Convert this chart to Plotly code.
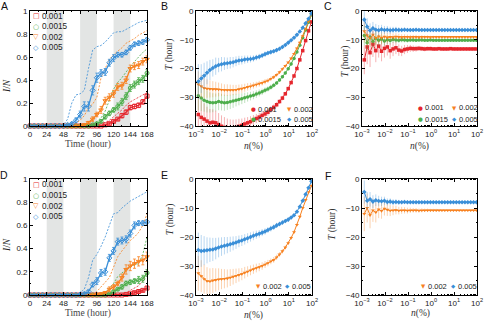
import plotly.graph_objects as go

W, H = 484, 323

# ---- data -------------------------------------------------------------
RATES = ["0.001", "0.0015", "0.002", "0.005"]

TIME = [0, 6, 12, 18, 24, 30, 36, 42, 48, 54, 60, 66, 72, 78, 84, 90, 96, 102,
        108, 114, 120, 126, 132, 138, 144, 150, 156, 162, 168]
NIGHTS = [(24, 48), (72, 96), (120, 144)]

# panel A  (solid = mean, err = error bar, dash = upper curve)
A_SOLID = {
    "0.001": [0, 0, 0, 0, 0, 0, 0, 0, 0, 0, 0, 0, 0, 0, 0, 0, 0, 0,
              0.01, 0.02, 0.04, 0.06, 0.09, 0.12, 0.16, 0.17, 0.18, 0.21, 0.26],
    "0.0015": [0, 0, 0, 0, 0, 0, 0, 0, 0, 0, 0, 0, 0, 0, 0,
               0.01, 0.02, 0.04, 0.08, 0.11, 0.14, 0.17, 0.21, 0.26, 0.33, 0.36, 0.39, 0.41, 0.46],
    "0.002": [0, 0, 0, 0, 0, 0, 0, 0, 0, 0, 0, 0, 0,
              0.01, 0.03, 0.06, 0.10, 0.14, 0.22, 0.25, 0.28, 0.34, 0.35, 0.40, 0.50, 0.52, 0.53, 0.56, 0.58],
    "0.005": [0, 0, 0, 0, 0, 0, 0, 0, 0,
              0.01, 0.02, 0.05, 0.10, 0.17, 0.17, 0.31, 0.42, 0.46, 0.47, 0.55, 0.59, 0.62, 0.62, 0.64,
              0.68, 0.71, 0.72, 0.73, 0.75],
}
A_ERR = {
    "0.001": [0, 0, 0, 0, 0, 0, 0, 0, 0, 0, 0, 0, 0, 0, 0, 0, 0, 0,
              0.005, 0.01, 0.01, 0.01, 0.02, 0.02, 0.02, 0.02, 0.02, 0.02, 0.02],
    "0.0015": [0, 0, 0, 0, 0, 0, 0, 0, 0, 0, 0, 0, 0, 0, 0,
               0.005, 0.01, 0.01, 0.02, 0.02, 0.02, 0.03, 0.03, 0.03, 0.03, 0.03, 0.03, 0.03, 0.03],
    "0.002": [0, 0, 0, 0, 0, 0, 0, 0, 0, 0, 0, 0, 0,
              0.01, 0.01, 0.02, 0.02, 0.03, 0.03, 0.03, 0.03, 0.03, 0.03, 0.03, 0.03, 0.03, 0.03, 0.03, 0.03],
    "0.005": [0, 0, 0, 0, 0, 0, 0, 0, 0,
              0.005, 0.01, 0.02, 0.03, 0.04, 0.04, 0.04, 0.04, 0.03, 0.03, 0.03, 0.03, 0.02, 0.02, 0.02,
              0.02, 0.02, 0.02, 0.02, 0.02],
}
A_DASH = {
    "0.001": [0, 0, 0, 0, 0, 0, 0, 0, 0, 0, 0, 0, 0, 0, 0, 0,
              0.01, 0.02, 0.03, 0.05, 0.08, 0.11, 0.14, 0.18, 0.21, 0.23, 0.25, 0.27, 0.29],
    "0.0015": [0, 0, 0, 0, 0, 0, 0, 0, 0, 0, 0, 0, 0, 0,
               0.01, 0.02, 0.04, 0.07, 0.13, 0.22, 0.32, 0.38, 0.42, 0.47, 0.52, 0.56, 0.60, 0.64, 0.67],
    "0.002": [0, 0, 0, 0, 0, 0, 0, 0, 0, 0, 0,
              0.02, 0.05, 0.09, 0.16, 0.19, 0.25, 0.42, 0.50, 0.58, 0.62, 0.65, 0.68, 0.72, 0.74, 0.76,
              0.79, 0.81, 0.83],
    "0.005": [0, 0, 0, 0, 0, 0, 0, 0,
              0.01, 0.06, 0.20, 0.27, 0.28, 0.31, 0.50, 0.66, 0.69, 0.70, 0.73, 0.77, 0.81, 0.82, 0.82,
              0.84, 0.86, 0.88, 0.90, 0.91, 0.92],
}

# panel D
D_SOLID = {
    "0.001": [0, 0, 0, 0, 0, 0, 0, 0, 0, 0, 0, 0, 0, 0, 0, 0, 0, 0, 0, 0, 0, 0, 0,
              0.005, 0.01, 0.02, 0.03, 0.04, 0.06],
    "0.0015": [0, 0, 0, 0, 0, 0, 0, 0, 0, 0, 0, 0, 0, 0, 0, 0, 0, 0, 0,
               0.01, 0.03, 0.05, 0.07, 0.10, 0.11, 0.12, 0.13, 0.14, 0.19],
    "0.002": [0, 0, 0, 0, 0, 0, 0, 0, 0, 0, 0, 0, 0, 0, 0, 0,
              0.005, 0.01, 0.02, 0.05, 0.07, 0.10, 0.15, 0.22, 0.25, 0.27, 0.29, 0.30, 0.33],
    "0.005": [0, 0, 0, 0, 0, 0, 0, 0, 0, 0, 0, 0,
              0.005, 0.01, 0.03, 0.09, 0.12, 0.19, 0.20, 0.32, 0.38, 0.46, 0.47, 0.48, 0.53, 0.60,
              0.62, 0.62, 0.63],
}
D_ERR = {
    "0.001": [0, 0, 0, 0, 0, 0, 0, 0, 0, 0, 0, 0, 0, 0, 0, 0, 0, 0, 0, 0, 0, 0, 0,
              0.005, 0.005, 0.01, 0.01, 0.01, 0.01],
    "0.0015": [0, 0, 0, 0, 0, 0, 0, 0, 0, 0, 0, 0, 0, 0, 0, 0, 0, 0, 0,
               0.005, 0.01, 0.01, 0.02, 0.02, 0.02, 0.02, 0.03, 0.03, 0.03],
    "0.002": [0, 0, 0, 0, 0, 0, 0, 0, 0, 0, 0, 0, 0, 0, 0, 0,
              0.005, 0.01, 0.01, 0.02, 0.02, 0.02, 0.03, 0.04, 0.04, 0.04, 0.04, 0.04, 0.04],
    "0.005": [0, 0, 0, 0, 0, 0, 0, 0, 0, 0, 0, 0,
              0.005, 0.01, 0.01, 0.02, 0.03, 0.03, 0.03, 0.03, 0.03, 0.03, 0.03, 0.03, 0.03, 0.03,
              0.02, 0.02, 0.02],
}
D_DASH = {
    "0.001": [0, 0, 0, 0, 0, 0, 0, 0, 0, 0, 0, 0, 0, 0, 0, 0, 0, 0, 0, 0, 0, 0,
              0.01, 0.02, 0.04, 0.06, 0.08, 0.12, 0.20],
    "0.0015": [0, 0, 0, 0, 0, 0, 0, 0, 0, 0, 0, 0, 0, 0, 0, 0, 0, 0,
               0.02, 0.06, 0.10, 0.16, 0.19, 0.22, 0.24, 0.26, 0.27, 0.35, 0.50],
    "0.002": [0, 0, 0, 0, 0, 0, 0, 0, 0, 0, 0, 0, 0, 0, 0, 0,
              0.03, 0.07, 0.11, 0.15, 0.24, 0.33, 0.38, 0.43, 0.47, 0.50, 0.54, 0.60, 0.70],
    "0.005": [0, 0, 0, 0, 0, 0, 0, 0, 0, 0, 0,
              0.01, 0.02, 0.05, 0.15, 0.30, 0.35, 0.42, 0.50, 0.60, 0.70, 0.71, 0.75, 0.78, 0.81,
              0.83, 0.85, 0.87, 0.89],
}

# n (%) sample positions, as log10 values
LOG_N = [-2.9, -2.775, -2.65, -2.525, -2.4, -2.275, -2.15, -2.025, -1.9, -1.775,
         -1.65, -1.525, -1.4, -1.275, -1.15, -1.025, -0.9, -0.775, -0.65, -0.525,
         -0.4, -0.275, -0.15, -0.025, 0.1, 0.225, 0.35, 0.475, 0.6, 0.725,
         0.85, 0.975, 1.1, 1.225, 1.35, 1.475, 1.6, 1.725, 1.85, 1.975]
N_PCT = [10 ** v for v in LOG_N]

# panel B
B_T = {
    "0.001": [-36.0, -37.0, -37.6, -38.3, -38.9, -38.7, -38.9, -39.5, -40.1, -40.5,
              -40.8, -40.9, -40.8, -40.5, -40.1, -39.8, -39.3, -38.9, -38.5, -38.0,
              -37.4, -36.9, -36.3, -35.8, -35.2, -34.3, -33.5, -32.6, -31.5, -30.3,
              -28.8, -27.0, -24.9, -22.6, -20.0, -17.0, -13.8, -10.3, -6.9, -3.8],
    "0.0015": [-29.5, -30.3, -31.0, -31.5, -31.8, -31.9, -31.8, -31.5, -31.7, -31.9,
               -31.8, -31.6, -31.3, -31.0, -30.8, -30.5, -30.2, -29.9, -29.6, -29.3,
               -28.9, -28.5, -28.1, -27.6, -27.1, -26.5, -25.8, -25.0, -24.0, -22.9,
               -21.6, -20.1, -18.4, -16.5, -14.3, -11.9, -9.3, -6.6, -3.9, -1.3],
    "0.002": [-25.5, -26.2, -26.8, -27.0, -27.1, -27.2, -27.2, -27.3, -27.4, -27.5,
              -27.5, -27.5, -27.5, -27.4, -27.2, -27.0, -26.7, -26.4, -26.2, -25.9,
              -25.6, -25.3, -25.0, -24.6, -24.2, -23.6, -23.0, -22.2, -21.3, -20.2,
              -19.1, -17.9, -16.5, -14.9, -13.0, -11.0, -8.7, -6.2, -3.6, -1.0],
    "0.005": [-24.5, -23.5, -22.5, -21.5, -20.5, -19.8, -19.2, -18.8, -18.5, -18.3,
              -18.2, -18.0, -17.8, -17.5, -17.2, -17.1, -16.9, -16.8, -16.7, -16.5,
              -16.2, -15.9, -15.5, -15.0, -14.6, -14.3, -14.0, -13.6, -13.1, -12.5,
              -11.8, -11.0, -10.2, -9.3, -8.3, -7.1, -5.8, -4.3, -2.7, -0.8],
}
B_ERR = {
    "0.001": [7.0, 6.0, 5.5, 5.0, 4.8, 4.5, 4.2, 4.0, 3.8, 3.6, 3.4, 3.2, 3.0, 2.8, 2.6,
              2.4, 2.2, 2.0, 1.9, 1.8, 1.6, 1.5, 1.4, 1.3, 1.2, 1.1, 1.0, 0.9, 0.8, 0.8,
              0.7, 0.6, 0.6, 0.5, 0.5, 0.4, 0.4, 0.4, 0.3, 0.3],
    "0.0015": [5.0, 4.5, 4.0, 3.8, 3.5, 3.3, 3.1, 3.0, 2.9, 2.8, 2.6, 2.5, 2.4, 2.2, 2.0,
               1.9, 1.8, 1.6, 1.5, 1.4, 1.3, 1.2, 1.1, 1.0, 0.9, 0.9, 0.8, 0.7, 0.7, 0.6,
               0.6, 0.5, 0.5, 0.5, 0.4, 0.4, 0.4, 0.3, 0.3, 0.3],
    "0.002": [4.5, 4.0, 3.5, 3.2, 3.0, 2.8, 2.6, 2.4, 2.2, 2.0, 2.0, 1.9, 1.8, 1.7, 1.6,
              1.5, 1.4, 1.3, 1.2, 1.1, 1.0, 1.0, 0.9, 0.9, 0.8, 0.8, 0.7, 0.7, 0.6, 0.6,
              0.5, 0.5, 0.5, 0.4, 0.4, 0.4, 0.3, 0.3, 0.3, 0.3],
    "0.005": [6.0, 5.0, 4.5, 4.0, 3.5, 3.0, 3.0, 2.5, 2.5, 2.2, 2.0, 2.0, 1.8, 1.7, 1.6,
              1.5, 1.4, 1.3, 1.2, 1.1, 1.0, 1.0, 0.9, 0.9, 0.8, 0.8, 0.7, 0.7, 0.6, 0.6,
              0.5, 0.5, 0.5, 0.4, 0.4, 0.4, 0.3, 0.3, 0.3, 0.3],
}

# panel C
C_T = {
    "0.001": [-17.0, -12.5, -14.5, -11.5, -13.8, -12.2, -14.0, -13.0, -12.5, -13.8,
              -13.2, -12.8, -13.6, -13.9, -13.4, -13.2, -13.0, -13.1, -13.1, -13.0,
              -13.1, -13.2, -13.1, -13.1, -13.2, -13.2, -13.1, -13.2, -13.2, -13.2,
              -13.1, -13.2, -13.2, -13.2, -13.2, -13.2, -13.2, -13.2, -13.2, -13.2],
    "0.0015": [-8.5, -11.0, -9.0, -10.5, -9.5, -10.2, -9.8, -10.4, -10.0, -10.3,
               -9.9, -10.1, -10.2, -10.0, -10.1, -10.2, -10.1, -10.1, -10.2, -10.1,
               -10.1, -10.2, -10.2, -10.1, -10.2, -10.2, -10.2, -10.2, -10.2, -10.2,
               -10.2, -10.2, -10.2, -10.2, -10.2, -10.2, -10.2, -10.2, -10.2, -10.2],
    "0.002": [-7.0, -8.5, -9.5, -8.2, -9.4, -8.8, -9.3, -8.9, -9.2, -9.0,
              -9.1, -8.9, -9.0, -9.1, -9.0, -9.0, -9.1, -9.0, -9.0, -9.1,
              -9.0, -9.0, -9.0, -9.1, -9.0, -9.0, -9.0, -9.0, -9.0, -9.0,
              -9.0, -9.0, -9.0, -9.0, -9.0, -9.0, -9.0, -9.0, -9.0, -9.0],
    "0.005": [-3.0, -5.5, -6.8, -6.0, -6.5, -6.7, -6.4, -6.6, -6.5, -6.7,
              -6.6, -6.5, -6.6, -6.6, -6.5, -6.6, -6.6, -6.6, -6.5, -6.6,
              -6.6, -6.6, -6.6, -6.6, -6.6, -6.6, -6.6, -6.6, -6.6, -6.6,
              -6.6, -6.6, -6.6, -6.6, -6.6, -6.6, -6.6, -6.6, -6.6, -6.6],
}
C_ERR = {
    "0.001": [5.0, 6.0, 5.0, 4.5, 4.0, 4.0, 3.5, 3.2, 3.0, 2.8, 2.5, 2.2, 2.0, 1.8, 1.6,
              1.4, 1.2, 1.1, 1.0, 0.9, 0.8, 0.8, 0.7, 0.7, 0.6, 0.6, 0.5, 0.5, 0.5, 0.4,
              0.4, 0.4, 0.4, 0.3, 0.3, 0.3, 0.3, 0.3, 0.3, 0.3],
    "0.0015": [3.5, 3.0, 2.8, 2.5, 2.2, 2.0, 1.8, 1.6, 1.5, 1.4, 1.2, 1.1, 1.0, 0.9, 0.8,
               0.8, 0.7, 0.7, 0.6, 0.6, 0.5, 0.5, 0.5, 0.4, 0.4, 0.4, 0.4, 0.3, 0.3, 0.3,
               0.3, 0.3, 0.3, 0.3, 0.2, 0.2, 0.2, 0.2, 0.2, 0.2],
    "0.002": [4.0, 3.5, 3.0, 2.8, 2.5, 2.2, 2.0, 1.8, 1.6, 1.5, 1.3, 1.2, 1.1, 1.0, 0.9,
              0.8, 0.8, 0.7, 0.7, 0.6, 0.6, 0.5, 0.5, 0.5, 0.4, 0.4, 0.4, 0.4, 0.3, 0.3,
              0.3, 0.3, 0.3, 0.3, 0.3, 0.2, 0.2, 0.2, 0.2, 0.2],
    "0.005": [4.0, 3.0, 2.5, 2.2, 2.0, 1.8, 1.6, 1.4, 1.3, 1.2, 1.1, 1.0, 0.9, 0.8, 0.7,
              0.7, 0.6, 0.6, 0.5, 0.5, 0.5, 0.4, 0.4, 0.4, 0.4, 0.3, 0.3, 0.3, 0.3, 0.3,
              0.3, 0.3, 0.2, 0.2, 0.2, 0.2, 0.2, 0.2, 0.2, 0.2],
}

# panel E
E_T = {
    "0.002": [-32.5, -33.5, -34.5, -35.2, -35.3, -35.0, -34.8, -34.6, -34.5, -34.4,
              -34.3, -34.0, -33.7, -33.4, -33.1, -32.8, -32.3, -31.9, -31.5, -31.1,
              -30.7, -30.4, -30.0, -29.5, -29.0, -28.4, -27.9, -27.0, -26.0, -24.9,
              -23.6, -22.1, -20.3, -18.3, -15.8, -13.0, -10.0, -7.2, -4.5, -2.3],
    "0.005": [-24.5, -24.8, -24.7, -24.6, -24.4, -24.3, -24.0, -23.6, -23.3, -23.0,
              -22.8, -22.5, -22.2, -21.9, -21.5, -21.2, -20.8, -20.4, -20.0, -19.6,
              -19.2, -18.9, -18.5, -18.1, -17.6, -17.1, -16.6, -16.0, -15.5, -15.0,
              -14.5, -14.0, -13.3, -12.5, -11.3, -9.6, -7.5, -5.3, -3.0, -0.8],
}
E_ERR = {
    "0.002": [6.0, 5.5, 5.0, 4.8, 4.5, 4.3, 4.0, 3.8, 3.5, 3.3, 3.1, 2.9, 2.7, 2.5, 2.3,
              2.1, 2.0, 1.8, 1.7, 1.6, 1.5, 1.4, 1.3, 1.2, 1.1, 1.0, 1.0, 0.9, 0.8, 0.8,
              0.7, 0.7, 0.6, 0.6, 0.5, 0.5, 0.4, 0.4, 0.4, 0.3],
    "0.005": [6.0, 5.5, 5.0, 4.5, 4.2, 4.0, 3.7, 3.4, 3.2, 3.0, 2.8, 2.6, 2.4, 2.2, 2.0,
              1.9, 1.8, 1.7, 1.6, 1.5, 1.4, 1.3, 1.2, 1.1, 1.0, 1.0, 0.9, 0.9, 0.8, 0.8,
              0.7, 0.7, 0.6, 0.6, 0.5, 0.5, 0.4, 0.4, 0.3, 0.3],
}

# panel F
F_T = {
    "0.002": [-12.0, -10.0, -12.5, -10.8, -11.5, -10.5, -11.0, -10.2, -10.6, -10.9,
              -10.8, -10.7, -10.9, -10.8, -10.8, -10.9, -10.8, -10.8, -10.8, -10.9,
              -10.8, -10.8, -10.8, -10.8, -10.8, -10.8, -10.8, -10.8, -10.8, -10.8,
              -10.8, -10.8, -10.8, -10.8, -10.8, -10.8, -10.8, -10.8, -10.8, -10.8],
    "0.005": [-4.5, -7.5, -7.0, -7.8, -7.3, -7.6, -7.7, -7.5, -7.9, -7.8,
              -8.0, -7.9, -8.0, -8.0, -7.9, -8.0, -8.0, -8.0, -8.0, -8.0,
              -8.0, -8.0, -8.0, -8.0, -8.0, -8.0, -8.0, -8.0, -8.0, -8.0,
              -8.0, -8.0, -8.0, -8.0, -8.0, -8.0, -8.0, -8.0, -8.0, -8.0],
}
F_ERR = {
    "0.002": [6.0, 5.0, 4.5, 4.0, 3.5, 3.0, 2.7, 2.4, 2.1, 1.9, 1.7, 1.5, 1.3, 1.2, 1.1,
              1.0, 0.9, 0.8, 0.8, 0.7, 0.7, 0.6, 0.6, 0.5, 0.5, 0.5, 0.4, 0.4, 0.4, 0.4,
              0.3, 0.3, 0.3, 0.3, 0.3, 0.3, 0.3, 0.3, 0.3, 0.3],
    "0.005": [4.0, 3.0, 2.5, 2.2, 2.0, 1.8, 1.6, 1.4, 1.2, 1.1, 1.0, 0.9, 0.8, 0.7, 0.7,
              0.6, 0.6, 0.5, 0.5, 0.5, 0.4, 0.4, 0.4, 0.4, 0.3, 0.3, 0.3, 0.3, 0.3, 0.3,
              0.3, 0.3, 0.3, 0.3, 0.3, 0.3, 0.3, 0.3, 0.3, 0.3],
}

# ---- styles -----------------------------------------------------------
COLORS = {"0.001": "#e5262d", "0.0015": "#4dae4b", "0.002": "#f7811f", "0.005": "#3a8fd8"}
RGB = {"0.001": "229,38,45", "0.0015": "77,174,75", "0.002": "247,129,31", "0.005": "58,143,216"}
SYMBOLS = {"0.001": "square", "0.0015": "circle", "0.002": "triangle-down", "0.005": "diamond"}
OPEN_GLYPH = {"0.001": "□", "0.0015": "○", "0.002": "▽", "0.005": "◇"}
FILL_GLYPH = {"0.001": "●", "0.0015": "●", "0.002": "▼", "0.005": "◆"}

SANS = "Liberation Sans, Arial, sans-serif"
SERIF = "Liberation Serif, Times New Roman, serif"


def fx(p):
    return p / W


def fy(p):
    return 1 - p / H


fig = go.Figure()


def time_panel(ax, solid, err, dash):
    for r in RATES:
        fig.add_trace(go.Scatter(
            x=TIME, y=dash[r], mode="lines", xaxis="x" + ax, yaxis="y" + ax,
            line=dict(color=COLORS[r], width=0.9, dash="2px,1.5px"),
            opacity=0.9, showlegend=False, hoverinfo="skip"))
    for r in RATES:
        fig.add_trace(go.Scatter(
            x=TIME, y=solid[r], mode="lines+markers", xaxis="x" + ax, yaxis="y" + ax,
            line=dict(color=COLORS[r], width=1.3),
            marker=dict(symbol=SYMBOLS[r] + "-open", size=4, color=COLORS[r], line=dict(width=1)),
            error_y=dict(type="data", array=err[r], color=COLORS[r], thickness=0.8, width=1.5),
            cliponaxis=False, showlegend=False))


def n_panel(ax, vals, errs):
    for r in [k for k in RATES if k in vals]:
        fig.add_trace(go.Scatter(
            x=N_PCT, y=vals[r], mode="lines+markers", xaxis="x" + ax, yaxis="y" + ax,
            line=dict(color=COLORS[r], width=1),
            marker=dict(symbol=SYMBOLS[r], size=3.5, color=COLORS[r]),
            error_y=dict(type="data", array=errs[r], color="rgba(%s,0.45)" % RGB[r],
                         thickness=0.8, width=0),
            showlegend=False))


time_panel("", A_SOLID, A_ERR, A_DASH)
n_panel("2", B_T, B_ERR)
n_panel("3", C_T, C_ERR)
time_panel("4", D_SOLID, D_ERR, D_DASH)
n_panel("5", E_T, E_ERR)
n_panel("6", F_T, F_ERR)

# ---- axes -------------------------------------------------------------
base = dict(showline=True, linecolor="black", linewidth=0.8, mirror="ticks",
            ticks="inside", ticklen=3, tickwidth=0.7, tickcolor="black",
            showgrid=False, zeroline=False, tickangle=0, automargin=False,
            tickfont=dict(size=8, color="#222", family=SANS))

XCOL = {"A": [30, 147], "B": [196, 312], "C": [362, 477]}
top = [fy(126), fy(11)]
bot = [fy(295), fy(179)]

time_x = dict(base, range=[0, 168], tickvals=[0, 24, 48, 72, 96, 120, 144, 168],
              minor=dict(ticks="inside", ticklen=1.5, dtick=12, tickcolor="black"))
frac_y = dict(base, range=[0, 1], dtick=0.2,
              minor=dict(ticks="inside", ticklen=1.5, dtick=0.1, tickcolor="black"))
log_x = dict(base, type="log", range=[-3, 2],
             tickvals=[0.001, 0.01, 0.1, 1, 10, 100],
             ticktext=["10<sup>−3</sup>", "10<sup>−2</sup>", "10<sup>−1</sup>",
                       "10<sup>0</sup>", "10<sup>1</sup>", "10<sup>2</sup>"],
             minor=dict(ticks="inside", ticklen=1.5, dtick="D1", tickcolor="black"))
t_y = dict(base, range=[-40, 0], dtick=10,
           minor=dict(ticks="inside", ticklen=1.5, dtick=5, tickcolor="black"))

layout_axes = {}
for i, (col, row) in enumerate([("A", top), ("B", top), ("C", top),
                                 ("A", bot), ("B", bot), ("C", bot)], start=1):
    s = "" if i == 1 else str(i)
    xs = time_x if col == "A" else log_x
    ys = frac_y if col == "A" else t_y
    layout_axes["xaxis" + s] = dict(xs, domain=[fx(XCOL[col][0]), fx(XCOL[col][1])], anchor="y" + s)
    layout_axes["yaxis" + s] = dict(ys, domain=row, anchor="x" + s)

fig.update_layout(**layout_axes)

# night shading
for ax in ["", "4"]:
    for a, b in NIGHTS:
        fig.add_shape(type="rect", xref="x" + ax, yref="y" + ax + " domain",
                      x0=a, x1=b, y0=0, y1=1, fillcolor="#e3e5e4",
                      line=dict(width=0), layer="below")

# ---- text -------------------------------------------------------------
ann = []


def text(x, y, s, size=8, family=SANS, color="#222", angle=0, xanchor="center"):
    ann.append(dict(x=fx(x), y=fy(y), xref="paper", yref="paper", text=s, showarrow=False,
                    xanchor=xanchor, yanchor="middle", textangle=angle,
                    font=dict(size=size, family=family, color=color)))


for lab, x, y in [("A", 4, 6), ("B", 164, 6), ("C", 328, 6),
                  ("D", 4, 175), ("E", 164, 175), ("F", 328, 176)]:
    text(x, y, lab, size=10.5, color="#111")

for y in [144, 313]:
    text(88, y, "Time (hour)", size=9.5, family=SERIF, color="#444")
text(7, 86, "<i>I</i>/<i>N</i>", size=9.5, family=SERIF, angle=-90)
text(7, 245, "<i>I</i>/<i>N</i>", size=9.5, family=SERIF, angle=-90)
for x, y in [(170, 55), (345, 62), (170, 220), (332, 225)]:
    text(x, y, "<i>T</i> (hour)", size=9.5, family=SERIF, angle=-90, color="#333")
for x, y in [(253, 146), (419, 146), (253, 315), (420, 313)]:
    text(x, y, "<i>n</i>(%)", size=9.5, family=SERIF, color="#333")

# legends: A / D stacked, others in small grids
for y0 in [16, 185]:
    for k, r in enumerate(RATES):
        y = y0 + k * 10.6
        text(36, y, OPEN_GLYPH[r], size=7, color=COLORS[r], family="DejaVu Sans")
        text(40, y, r, size=8.2, xanchor="left")

for (x, y, r) in [(253, 109, "0.001"), (289, 109, "0.002"),
                  (253, 119, "0.0015"), (289, 119, "0.005"),
                  (420, 108, "0.001"), (454, 108, "0.002"),
                  (420, 119, "0.0015"), (454, 119, "0.005"),
                  (258, 286, "0.002"), (287, 286, "0.005"),
                  (423, 286, "0.002"), (453, 286, "0.005")]:
    text(x, y, FILL_GLYPH[r], size=5.5, color=COLORS[r], family="DejaVu Sans")
    text(x + 3, y, r, size=7.5, xanchor="left")

fig.update_layout(
    annotations=ann,
    width=W, height=H, margin=dict(l=0, r=0, t=0, b=0, autoexpand=False),
    paper_bgcolor="white", plot_bgcolor="white",
    font=dict(family=SANS, size=8, color="#222"),
    showlegend=False,
)

fig.write_html("out.html", config={"displayModeBar": False},
               post_script="document.body.style.margin='0px';")
